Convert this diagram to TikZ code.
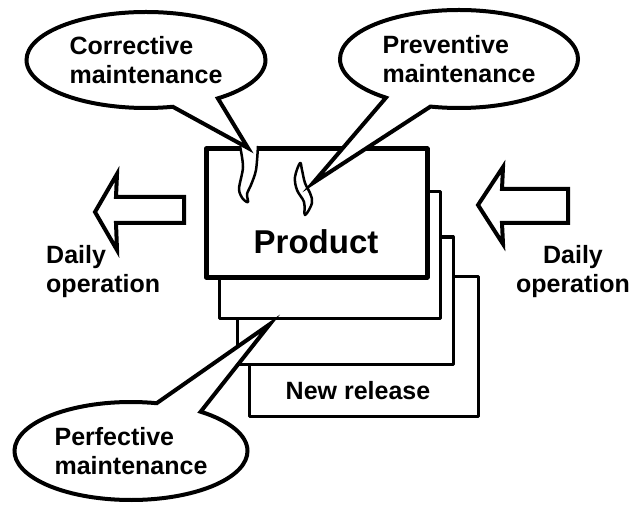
\documentclass[tikz,border=0pt]{standalone}
\usepackage{fontspec}
\setmainfont{Liberation Sans}
\usepackage{tikz}
\usetikzlibrary{shapes.callouts}

\begin{document}
\begin{tikzpicture}[x=1bp,y=-1bp,
        sheet/.style={draw,fill=white,line width=3bp,line join=round},
        bubble/.style={ellipse callout,draw,fill=white,line width=4bp,inner sep=0pt,
            align=left,font=\bfseries\fontsize{25bp}{29bp}\selectfont,callout pointer arc=24},
        blockarrow/.style={draw,fill=white,line width=4bp},
        flame/.style={draw,fill=white,line width=2.5bp,line join=round},
        lbl/.style={inner sep=0pt,font=\bfseries\fontsize{25bp}{29bp}\selectfont}]
    \useasboundingbox (0,0) rectangle (638,505);

    % листи продукту, від заднього до переднього
    \coordinate (R4a) at (249,276); \coordinate (R4b) at (478,416);
    \coordinate (R3a) at (237,237); \coordinate (R3b) at (453,364);
    \coordinate (R2a) at (219,192); \coordinate (R2b) at (440,318);
    \coordinate (R1a) at (206,149); \coordinate (R1b) at (427,277);

    \draw[sheet] (R4a) rectangle (R4b);
    \draw[sheet] (R3a) rectangle (R3b);
    \draw[sheet] (R2a) rectangle (R2b);
    \draw[sheet,line width=5bp] (R1a) rectangle (R1b);

    % тріщини на верхньому листі
    \draw[flame] plot[smooth] coordinates {(240,146) (243,167) (239,189) (243,199) (248,202) (247,194) (251,185) (256,170) (258,146)};
    \draw[flame] plot[smooth cycle,tension=0.6] coordinates {(300,163) (295,177) (297,190) (304,202) (305,215) (312,203) (310,193) (305,183) (302,170)};

    % стрілки ліворуч
    \coordinate (LA) at (95,212);
    \coordinate (RA) at (478,205);
    \draw[blockarrow] (LA) -- (117,174) -- (116,197) -- (184,197) -- (184,223) -- (116,223) -- (117,250) -- cycle;
    \draw[blockarrow] (RA) -- (503,167) -- (502,189) -- (568,189) -- (568,223) -- (502,223) -- (503,244) -- cycle;

    \node[font=\bfseries\fontsize{33bp}{38bp}\selectfont] (prod) at (316,242) {Product};
    \node[lbl] (newrel) at (358,391) {New release};
    \node[lbl,align=left,anchor=west] (opL) at (46,272) {Daily\\operation};
    \node[lbl,align=center] (opR) at (573,272) {Daily\\operation};

    % виноски
    \coordinate (tipC) at (248,148);
    \coordinate (tipP) at (313,183);
    \coordinate (tipF) at (270,324);
    \node[bubble,minimum width=239bp,minimum height=96bp,callout absolute pointer={(tipC)}] (corr) at (146,60) {Corrective\\maintenance};
    \node[bubble,minimum width=238bp,minimum height=98bp,callout absolute pointer={(tipP)}] (prev) at (459,59) {Preventive\\maintenance};
    \node[bubble,minimum width=233bp,minimum height=98bp,callout absolute pointer={(tipF)}] (perf) at (131,451) {Perfective\\maintenance};
\end{tikzpicture}
\end{document}
